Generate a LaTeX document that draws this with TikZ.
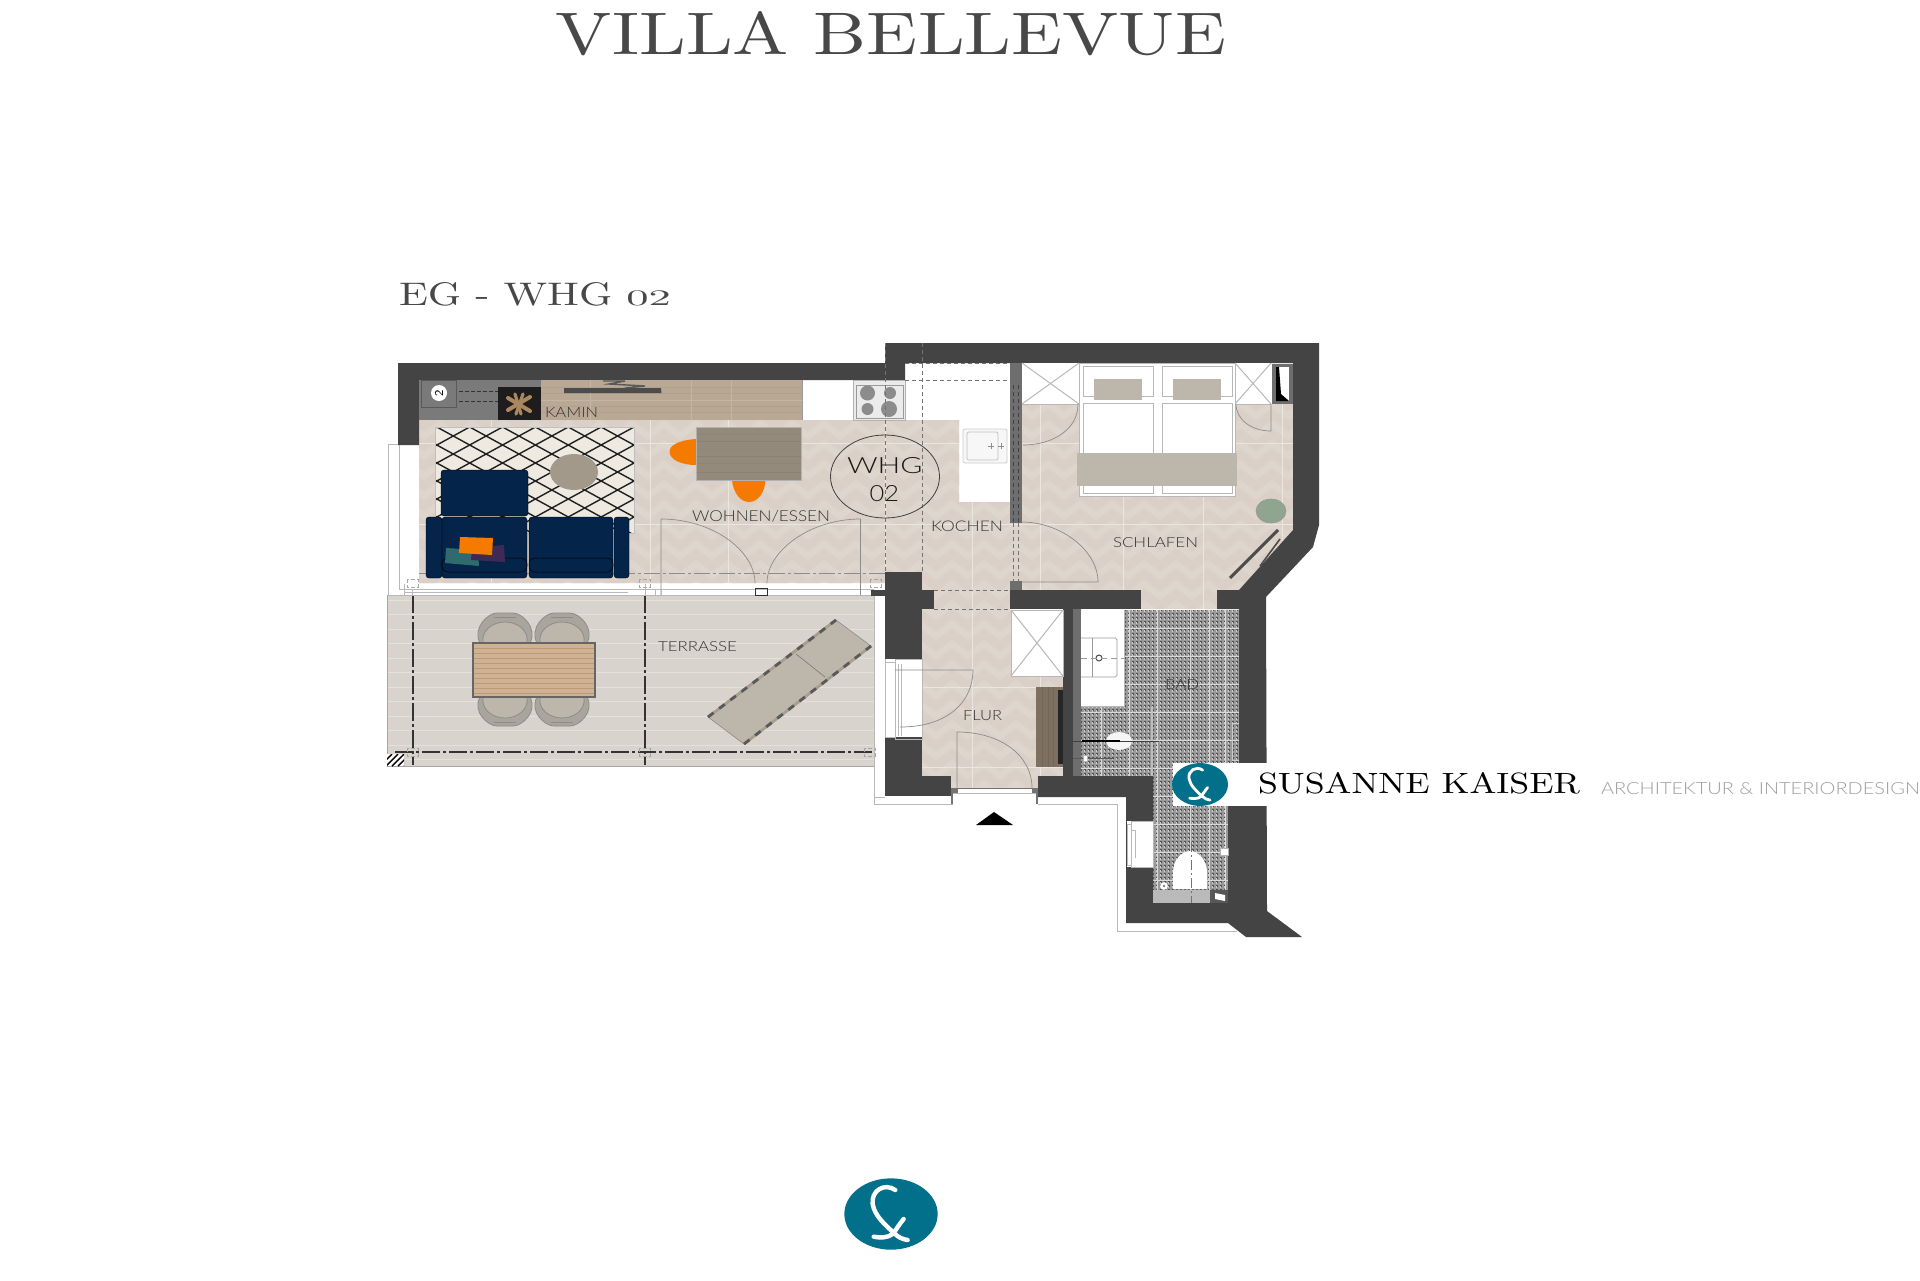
\documentclass[tikz,border=0pt]{standalone}
\usepackage{fontspec}
\usepackage{graphicx}
\usetikzlibrary{decorations.pathmorphing}
\newfontfamily\lblfont{Lato}[UprightFont=* Light]
\definecolor{wall}{HTML}{444444}
\definecolor{wallgrey}{HTML}{6E6E6E}
\definecolor{floorA}{HTML}{DED5CC}
\definecolor{floorB}{HTML}{DAD0C7}
\definecolor{joint}{HTML}{ECE6E0}
\definecolor{terr}{HTML}{D8D3CC}
\definecolor{terrl}{HTML}{E4E0DA}
\definecolor{taupe}{HTML}{BDB6AA}
\definecolor{navy}{HTML}{04244A}
\definecolor{teal}{HTML}{02708B}
\definecolor{orng}{HTML}{F57A00}
\definecolor{fine}{HTML}{B8B8B8}
\definecolor{tbl}{RGB}{207,178,145}
\definecolor{tbll}{RGB}{185,155,122}
\definecolor{lng}{RGB}{168,158,144}
\definecolor{blk}{RGB}{30,28,28}
\definecolor{firec}{RGB}{170,135,95}
\definecolor{shelf}{RGB}{184,168,148}
\definecolor{shelfl}{RGB}{196,182,164}
\definecolor{shelfd}{RGB}{176,160,140}
\definecolor{rugc}{RGB}{238,234,226}
\definecolor{rndt}{RGB}{163,153,139}
\definecolor{cteal}{RGB}{47,107,109}
\definecolor{cpurple}{RGB}{63,42,87}
\definecolor{dtbl}{RGB}{147,138,124}
\definecolor{plant}{RGB}{143,165,143}
\definecolor{shelfh}{RGB}{125,112,96}
\definecolor{titlec}{RGB}{72,72,72}
\definecolor{chairo}{RGB}{170,165,156}
\newcommand{\labeltxt}[7]{% name, cx, cy, w, h, colour, text
  \node[inner sep=0pt,outer sep=0pt,text=#6] (#1) at (#2,#3) {\resizebox{\dimexpr#4pt/2\relax}{\dimexpr#5pt/2\relax}{\lblfont #7}};}
\newcommand{\skaiserlogo}[4]{%
  \begin{scope}[shift={(#1,#2)},scale=#3]
    \fill[teal] (0,0) ellipse [x radius=140,y radius=107];
    \draw[white,line width=#4,line cap=round]
      (13,-72) .. controls (-20,-95) and (-60,-70) .. (-55,-30)
      .. controls (-50,5) and (-15,35) .. (10,58)
      .. controls (22,70) and (35,76) .. (50,78);
    \draw[white,line width=#4,line cap=round]
      (38,15) .. controls (25,30) and (15,48) .. (5,60)
      .. controls (-10,72) and (-35,72) .. (-52,68);
  \end{scope}}
\newcommand{\floorshape}{(419,420) -- (959,420) -- (959,502) -- (1010,502) -- (1010,523) -- (1022,523) -- (1022,404) -- (1293,404) -- (1293,530) -- (1239,590) -- (1217,590) -- (1217,609) -- (1141,609) -- (1141,590) -- (1022,590) -- (1010,590) -- (1010,610) -- (1063,610) -- (1063,776) -- (1038,776) -- (1038,788) -- (951,788) -- (951,776) -- (922,776) -- (922,572) -- (885,572) -- (885,583) -- (419,583) -- cycle}
\newcommand{\tileshape}{(1124,610) -- (1239,610) -- (1239,770) -- (1228,770) -- (1228,903) -- (1153,903) -- (1153,776) -- (1081,776) -- (1081,706) -- (1124,706) -- cycle}
\tikzset{
  fineline/.style={draw=fine,line width=0.5pt},
  doorline/.style={draw=black!45,line width=0.35pt},
  dashline/.style={draw=black!55,line width=0.35pt,dash pattern=on 2pt off 1.5pt},
  dashdot/.style={draw=black!80,line width=0.6pt,dash pattern=on 9pt off 1.5pt on 1.5pt off 1.5pt},
  smallsq/.style={draw=black!35,line width=0.35pt,dash pattern=on 2pt off 1pt},
  chair/.style={fill=taupe,draw=black!45,line width=0.4pt},
  chairouter/.style={fill=chairo,draw=black!45,line width=0.4pt},
  sofa/.style={fill=navy,draw=black,line width=0.2pt,rounded corners=1.5pt},
  wallfill/.style={fill=wall},
}
\begin{document}
\begin{tikzpicture}[x=0.5pt,y=-0.5pt]
\useasboundingbox (0,0) rectangle (1920,1280);
\fill[white] (0,0) rectangle (1920,1280);

% floors
\fill[floorA] \floorshape;
\begin{scope}
  \clip \floorshape;
  \foreach \yy in {400,420,...,800}
    \draw[floorB,line width=4.5pt,decorate,decoration={zigzag,segment length=16pt,amplitude=3pt}] (400,\yy) -- (1310,\yy);
  \foreach \yy in {443,524,687,767}
    \draw[joint,line width=0.5pt] (400,\yy) -- (1310,\yy);
  \foreach \xx in {491,650,728,885,1123,1203,1282,972,1040}
    \draw[joint,line width=0.5pt] (\xx,400) -- (\xx,800);
\end{scope}

% bath tiles
\fill[black!40] \tileshape;
\begin{scope}
  \clip \tileshape;
  \foreach \yy in {610,614,...,905}
    \draw[black!68,line width=0.6pt,dash pattern=on 0.8pt off 1.2pt] (1080,\yy) -- (1240,\yy);
  \foreach \xx in {1080,1084,...,1240}
    \draw[white!80!black,line width=0.4pt,dash pattern=on 0.8pt off 1.2pt] (\xx,610) -- (\xx,905);
  \foreach \yy in {628,656,...,900}
    \draw[white!85!black,line width=0.5pt] (1080,\yy) -- (1240,\yy);
  \foreach \xx in {1101,1129,1157,1190,1209,1225}
    \draw[white!85!black,line width=0.5pt] (\xx,610) -- (\xx,905);
\end{scope}

% terrace
\fill[terr] (387,595) rectangle (874,766);
\begin{scope}
  \clip (387,595) rectangle (874,766);
  \foreach \yy in {600,614.5,...,766}
    \draw[terrl,line width=0.5pt] (387,\yy) -- (874,\yy);
\end{scope}
\draw[draw=black!35,line width=0.5pt] (874,766) -- (387,766) -- (387,595) -- (874,595);
\fill[white] (387,754) rectangle (404,766);
\begin{scope}
  \clip (387,754) rectangle (404,766);
  \foreach \xx in {380,386,...,410}
    \draw[black,line width=0.7pt] (\xx,766) -- (\xx+12,754);
\end{scope}
\draw[dashdot] (413,595) -- (413,765);
\draw[dashdot] (645,595) -- (645,765);
\draw[dashdot] (395,752) -- (875,752);
\foreach \xx in {407,639,864}
  \draw[smallsq] (\xx,748) rectangle (\xx+11,756);

% terrace chairs and table
\foreach \xx in {505,562}{
  \draw[chairouter] (\xx-25,643) .. controls (\xx-33,628) and (\xx-17,613) .. (\xx-8,613) -- (\xx+8,613) .. controls (\xx+17,613) and (\xx+33,628) .. (\xx+25,643) -- cycle;
  \draw[chair] (\xx-22,643) .. controls (\xx-24,630) and (\xx-12,622) .. (\xx,622) .. controls (\xx+12,622) and (\xx+24,630) .. (\xx+22,643) -- cycle;
  \draw[black!45,line width=0.4pt] (\xx-11,617) -- (\xx+11,617);
  \draw[chairouter] (\xx-25,697) .. controls (\xx-33,712) and (\xx-17,726) .. (\xx-8,726) -- (\xx+8,726) .. controls (\xx+17,726) and (\xx+33,712) .. (\xx+25,697) -- cycle;
  \draw[chair] (\xx-22,697) .. controls (\xx-24,710) and (\xx-12,718) .. (\xx,718) .. controls (\xx+12,718) and (\xx+24,710) .. (\xx+22,697) -- cycle;
  \draw[black!45,line width=0.4pt] (\xx-11,722) -- (\xx+11,722);
}
\fill[tbl] (473,643) rectangle (595,697);
\foreach \yy in {648,653,...,693}
  \draw[tbll,line width=0.25pt] (473,\yy) -- (595,\yy);
\draw[black!60,line width=0.6pt] (473,643) rectangle (595,697);

% lounger
\fill[taupe,draw=black!45,line width=0.3pt] (708,717) -- (836,620) -- (871,646) -- (744,744) -- cycle;
\draw[lng,line width=1.4pt] (708,717) -- (836,620);
\draw[lng,line width=1.4pt] (744,744) -- (871,646);
\draw[black!65,line width=1.4pt,dash pattern=on 3.5pt off 3.5pt] (708,717) -- (836,620);
\draw[black!65,line width=1.4pt,dash pattern=on 3.5pt off 3.5pt] (744,744) -- (871,646);
\draw[black!50,line width=0.35pt] (796,654) -- (825,677);

% exterior fine lines
\draw[fineline] (388,595) -- (388,444) -- (398,444);
\draw[fineline] (399,445) -- (399,589) -- (874,589);
\draw[fineline] (404,584) -- (404,595);
\draw[fineline] (388,595) -- (874,595);
\draw[fineline] (404,592) -- (628,592);
\draw[fineline] (874,596) -- (874,804) -- (953,804);
\draw[fineline] (874,797) -- (885,797);
\draw[fineline] (1038,804) -- (1117,804) -- (1117,931) -- (1237,931);

% walls
\fill[wallfill] (398,363) -- (885,363) -- (885,380) -- (419,380) -- (419,445) -- (398,445) -- cycle;
\fill[wallfill] (885,343) -- (1319,343) -- (1319,525) -- (1313,547) -- (1266,597) -- (1267,911) -- (1302,937) -- (1246,937) -- (1228,923) -- (1126,923) -- (1126,797) -- (1038,797) -- (1038,776) -- (1153,776) -- (1153,903) -- (1228,903) -- (1228,763) -- (1239,763) -- (1239,609) -- (1217,609) -- (1217,590) -- (1239,590) -- (1293,530) -- (1293,363) -- (905,363) -- (905,380) -- (885,380) -- cycle;
\fill[wallfill] (885,572) rectangle (922,659);
\fill[wallfill] (885,590) rectangle (934,609);
\fill[wallfill] (885,737) rectangle (922,776);
\fill[wallfill] (885,776) rectangle (951,796);
\fill[wallfill] (871,590) rectangle (885,596);
\fill[wallfill] (1010,590) rectangle (1141,609);
\fill[wallfill] (1063,609) rectangle (1073,776);
\fill[wallgrey] (1073,609) rectangle (1081,776);

% kitchen partition
\fill[wallgrey] (1010,363) rectangle (1022,523);
\fill[wallgrey] (1010,581) rectangle (1022,590);
\draw[black!75,line width=0.7pt,dash pattern=on 2pt off 1.5pt] (1013.5,385) -- (1013.5,523);
\draw[black!75,line width=0.7pt,dash pattern=on 2pt off 1.5pt] (1018.5,385) -- (1018.5,523);
\draw[black!55,line width=0.4pt,dash pattern=on 2pt off 1.5pt] (1013.5,523) -- (1013.5,581);
\draw[black!55,line width=0.4pt,dash pattern=on 2pt off 1.5pt] (1018.5,523) -- (1018.5,581);

% fireplace wall
\fill[black!52] (419,380) rectangle (541,420);
\draw[black!65,line width=0.35pt] (421,380) rectangle (456,407);
\fill[white] (439,393) circle [radius=8];
\node[inner sep=0pt,rotate=90,font=\fontsize{6pt}{6pt}\selectfont\sffamily,text=black] (tvtwo) at (439,393) {2};
\draw[black!80,line width=0.4pt,dash pattern=on 2pt off 1pt] (459,391) -- (498,391);
\draw[black!80,line width=0.4pt,dash pattern=on 2pt off 1pt] (459,401) -- (498,401);
\fill[blk] (498,387) rectangle (541,420);
\begin{scope}[shift={(519,404)}]
  \draw[firec,line width=2pt,line cap=round] (-11,-6) -- (11,7);
  \draw[firec,line width=2pt,line cap=round] (-11,6) -- (11,-7);
  \draw[firec,line width=1.6pt,line cap=round] (-4,-10) -- (2,10);
  \draw[firec,line width=1.6pt,line cap=round] (4,-10) -- (-3,10);
\end{scope}
\fill[shelf] (541,380) rectangle (802,420);
\draw[shelfl,line width=0.5pt] (541,400.5) -- (802,400.5);
\foreach \yy in {387,393,406,412}
  \draw[shelfd,line width=0.3pt] (541,\yy) -- (802,\yy);
\foreach \xx in {590,691,731}
  \draw[shelfl,line width=0.3pt] (\xx,380) -- (\xx,420);
\fill[black!70] (564,388) -- (661,388) -- (661.5,393) -- (564,393) -- cycle;
\draw[black!65,line width=0.7pt] (603,381) -- (625,381) -- (609,384) -- (645,386) -- (625,388);
\draw[black!40,line width=0.3pt] (802,380) -- (802,420);

% cooktop
\fill[black!8,draw=black!30,line width=0.3pt] (853,380) rectangle (905,420);
\draw[black!40,line width=0.3pt] (856,385) rectangle (903,418);
\fill[black!45] (867.5,393) circle [radius=7.5];
\fill[black!45] (890,393) circle [radius=6];
\fill[black!45] (867.5,409) circle [radius=6];
\fill[black!45] (889,409) circle [radius=8];

% kitchen upper cabinet dashed lines
\draw[dashline] (905,363) -- (1010,363);
\draw[dashline] (905,380) -- (1010,380);
\draw[dashline] (885,343) -- (885,572);
\draw[dashline] (922,343) -- (922,572);
\draw[dashline] (934,590) -- (1010,590);
\draw[dashline] (934,609) -- (1010,609);
\draw[draw=black!45,line width=0.4pt,dash pattern=on 8pt off 1.5pt on 1.5pt off 1.5pt] (419,573) -- (885,573);

% sink
\fill[black!3,draw=black!20,line width=0.35pt,rounded corners=1pt] (963,429) rectangle (1007,463);
\draw[black!25,line width=0.35pt,rounded corners=1pt] (967,432) rectangle (998,460);
\foreach \xx in {991,1001}{
  \draw[black!45,line width=0.4pt] (\xx-3,446) -- (\xx+3,446);
  \draw[black!45,line width=0.4pt] (\xx,443) -- (\xx,449);
}

% rug
\begin{scope}
  \clip (435,427) rectangle (634,533);
  \fill[rugc] (435,427) rectangle (634,533);
  \foreach \yy in {318,336,...,540}
    \draw[black!88,line width=0.7pt] (435,\yy) -- (634,\yy+109);
  \foreach \yy in {428,446,...,650}
    \draw[black!88,line width=0.7pt] (435,\yy) -- (634,\yy-109);
\end{scope}
\draw[black!25,line width=0.4pt] (435,427) rectangle (634,533);
\fill[rndt] (574,472) ellipse [x radius=24,y radius=18];

% sofa
\draw[sofa] (441,470) rectangle (528,516);
\draw[sofa] (426,517) rectangle (442,578);
\draw[sofa] (614,517) rectangle (629,578);
\draw[sofa] (442,517) rectangle (527,578);
\draw[sofa] (529,517) rectangle (613,578);
\draw[black,line width=0.25pt,rounded corners=3pt] (442,558) rectangle (527,572);
\draw[black,line width=0.25pt,rounded corners=3pt] (529,558) rectangle (613,572);
\fill[cteal] (446,548) -- (478,550) -- (479,566) -- (445,563) -- cycle;
\fill[cpurple] (472,548) -- (504,545) -- (505,562) -- (471,560) -- cycle;
\fill[orng] (460,537) -- (493,538) -- (492,555) -- (459,553) -- cycle;

% dining
\fill[orng] (696,439) .. controls (680,440) and (669,445) .. (669.5,452) .. controls (670,460) and (682,465) .. (696,465) -- cycle;
\fill[orng] (732,480) .. controls (733,492) and (740,502) .. (749,502) .. controls (758,502) and (765,492) .. (765.5,480) -- cycle;
\fill[dtbl] (696,427) rectangle (801.5,480);
\foreach \yy/\shd in {434/60,441/70,449/55,456/75,463/60,472/70}
  \draw[black!\shd,opacity=0.12,line width=0.35pt] (696,\yy) -- (801.5,\yy);
\draw[black!30,line width=0.3pt] (696,427) rectangle (801.5,480);

% living doors
\draw[doorline] (661,595) -- (661,519) .. controls (713,519) and (755,551) .. (755,583);
\draw[doorline] (860.5,595) -- (860.5,519) .. controls (810,519) and (767,551) .. (767,583);
\draw[black!80,line width=0.5pt] (755,588) rectangle (767,595);
\foreach \xx in {407,639,870}
  \draw[smallsq] (\xx,579) rectangle (\xx+11,587);
\draw[fineline] (412,589) -- (412,595);
\draw[fineline] (645,584) -- (645,595);
\draw[fineline] (655,589) -- (655,595);
\draw[fineline] (661,589) -- (661,595);

% WHG circle
\draw[black!75,line width=0.4pt] (885,476.5) ellipse [x radius=54.5,y radius=41.5];

% bedroom: closets and bed
\fill[white] (1022,363) rectangle (1271,404);
\draw[fineline] (1022,404) -- (1271,404);
\draw[fineline] (1022,363) -- (1079,404);
\draw[fineline] (1022,404) -- (1079,363);
\draw[fineline] (1235,363) -- (1271,404);
\draw[fineline] (1235,404) -- (1271,363);
\draw[fill=white,draw=fine,line width=0.4pt] (1079,363) rectangle (1235,496);
\draw[fineline,fill=white] (1083,403) rectangle (1153,493);
\draw[fineline,fill=white] (1162,403) rectangle (1232,493);
\draw[fineline,fill=white] (1083,366) rectangle (1153,396);
\draw[fineline,fill=white] (1162,366) rectangle (1232,396);
\fill[taupe] (1094,379) rectangle (1142,400);
\fill[taupe] (1173,379) rectangle (1221,400);
\fill[taupe] (1077,453) rectangle (1237,486);
\draw[doorline] (1023,445) .. controls (1052,445) and (1078,430) .. (1078,404);
\draw[doorline] (1236,404) .. controls (1236,420) and (1252,431) .. (1271,431) -- (1271,404);
\draw[doorline] (1022,522) .. controls (1060,522) and (1098,550) .. (1098,582) -- (1022,582);
\fill[plant,draw=black!40,line width=0.3pt] (1271,511) ellipse [x radius=15,y radius=12];
\draw[black!70,line width=1.5pt] (1230,578) -- (1278,530);
\draw[black!70,line width=0.8pt] (1260,566) -- (1280,539);
\fill[wallgrey] (1272,364) rectangle (1293,404);
\fill[white] (1276,367) rectangle (1289,401);
\fill[black] (1276,367) -- (1279,367) -- (1281,394) -- (1289,401) -- (1276,401) -- cycle;

% hall
\fill[white] (1011,610) rectangle (1063,676);
\draw[fineline] (1011,610) rectangle (1063,676);
\draw[fineline] (1011,610) -- (1063,676);
\draw[fineline] (1011,676) -- (1063,610);
\fill[shelfh] (1036,687) rectangle (1063,767);
\foreach \xx in {1042,1048,1053}
  \draw[black!70,opacity=0.25,line width=0.3pt] (\xx,687) -- (\xx,767);
\fill[black!85] (1058,690) rectangle (1063,764);

% hall window
\fill[white] (885,659) rectangle (922,737);
\draw[fineline] (895,659) rectangle (922,739);
\draw[fineline] (885,662) -- (895,662);
\draw[fineline] (885,737) -- (895,737);
\draw[fineline] (885,659) -- (885,737);
\draw[fineline] (898,664) -- (898,736);
\draw[fineline] (901,664) -- (901,736);

% hall doors
\draw[doorline] (895,670) -- (973,670) .. controls (973,700) and (950,727) .. (900,727);
\draw[doorline] (957,788) -- (957,732) .. controls (1000,732) and (1032,755) .. (1032,788);

% entrance
\fill[white] (951,788) rectangle (1038,804);
\draw[black!55,line width=0.4pt] (951,788) -- (1038,788);
\draw[fineline] (951,793) -- (1038,793);
\fill[black!55] (951,788) rectangle (958,793);
\fill[black!55] (1032,788) rectangle (1038,793);
\fill[black!55] (951,793) rectangle (953,804);
\fill[black!55] (1036,793) rectangle (1038,804);
\fill[black] (976,825) -- (994,812) -- (1013,825) -- cycle;

% bath fittings
\fill[white] (1081,610) rectangle (1124,706);
\draw[fineline] (1081,706) -- (1124,706) -- (1124,610);
\draw[black!40,line width=0.4pt,rounded corners=0.8pt] (1081,638) -- (1117,638) -- (1117,677) -- (1081,677);
\draw[black!40,line width=0.4pt] (1092,638) -- (1092,677);
\draw[black!70,line width=0.5pt] (1099,658) circle [radius=3];
\draw[black!40,line width=0.35pt,dash pattern=on 3pt off 2pt] (1081,658) -- (1124,658);
\draw[black!25,line width=0.8pt] (1152,707) -- (1152,776);
\fill[black!4] (1119,741) ellipse [x radius=13,y radius=9];
\draw[black!75,line width=0.4pt] (1073,741) -- (1159,741);
\draw[black,line width=0.9pt] (1082,741) -- (1120,741);
\draw[black!65,line width=0.4pt] (1073,758) -- (1114,758);
\draw[black!30,fill=white,line width=0.3pt] (1083,755) rectangle (1087,761);
\draw[white!80!black,line width=0.4pt] (1239,723) -- (1232,723) -- (1232,760) -- (1239,760);
\fill[white] (1173,889) -- (1173,872) .. controls (1173,860) and (1182,851) .. (1190,851) .. controls (1198,851) and (1207,860) .. (1207,872) -- (1207,889) -- cycle;
\fill[black!27] (1153,890) rectangle (1210,903);
\draw[black!55,line width=0.35pt,dash pattern=on 5pt off 1.5pt on 1pt off 1.5pt] (1191,842) -- (1191,903);
\fill[wall!90!white] (1210,890) rectangle (1228,903);
\fill[white] (1215,893) -- (1225,895) -- (1225,901) -- (1215,899) -- cycle;
\fill[white] (1164,886) circle [radius=3.8];
\fill[black!50] (1164,886) circle [radius=1.4];
\fill[white,draw=black!30,line width=0.3pt] (1220,848) rectangle (1228,855);

% bath window
\fill[white] (1127,821) rectangle (1153,867);
\draw[fineline] (1131,821) rectangle (1153,867);
\draw[fineline] (1127,824) rectangle (1131,865);
\draw[fineline] (1135,830) -- (1135,858);
\draw[fineline] (1131,830) -- (1135,830);

% logo strip (covers the plan)
\fill[white] (1173,763) rectangle (1272,806);
\skaiserlogo{1200}{784.5}{0.2}{1.4pt}
\skaiserlogo{891}{1214}{0.3333}{2.2pt}

% texts
\node[inner sep=0pt,text=titlec] (title) at (891,33.5) {\resizebox{335pt}{21.5pt}{\addfontfeature{LetterSpace=8}VILLA BELLEVUE}};
\node[inner sep=0pt,text=titlec] (sub) at (535,294) {\resizebox{136pt}{11.5pt}{\addfontfeature{LetterSpace=8}EG - WHG \scalebox{1.05}[0.68]{02}}};
\node[inner sep=0pt,text=black] (brand) at (1419,783.5) {\resizebox{161pt}{10.5pt}{\addfontfeature{LetterSpace=6}SUSANNE KAISER}};
\labeltxt{tagline}{1760.5}{789}{319}{12}{black!38}{ARCHITEKTUR \& INTERIORDESIGN}
\labeltxt{kamin}{571.5}{412}{53}{10}{black!80}{KAMIN}
\labeltxt{wohnen}{761}{516.5}{138}{11}{black!80}{WOHNEN/ESSEN}
\labeltxt{kochen}{967}{526.5}{72}{10.5}{black!80}{KOCHEN}
\labeltxt{schlafen}{1155.5}{543}{85}{10}{black!80}{SCHLAFEN}
\labeltxt{terrasse}{697.5}{647}{79}{10}{black!80}{TERRASSE}
\labeltxt{flur}{982.5}{716}{39}{10}{black!80}{FLUR}
\labeltxt{bad}{1182}{684}{34}{10}{black!80}{BAD}
\labeltxt{whg}{884.75}{466}{75.5}{16}{black!90}{WHG}
\labeltxt{wnum}{884.25}{494}{29.5}{16}{black!90}{02}
\end{tikzpicture}
\end{document}
